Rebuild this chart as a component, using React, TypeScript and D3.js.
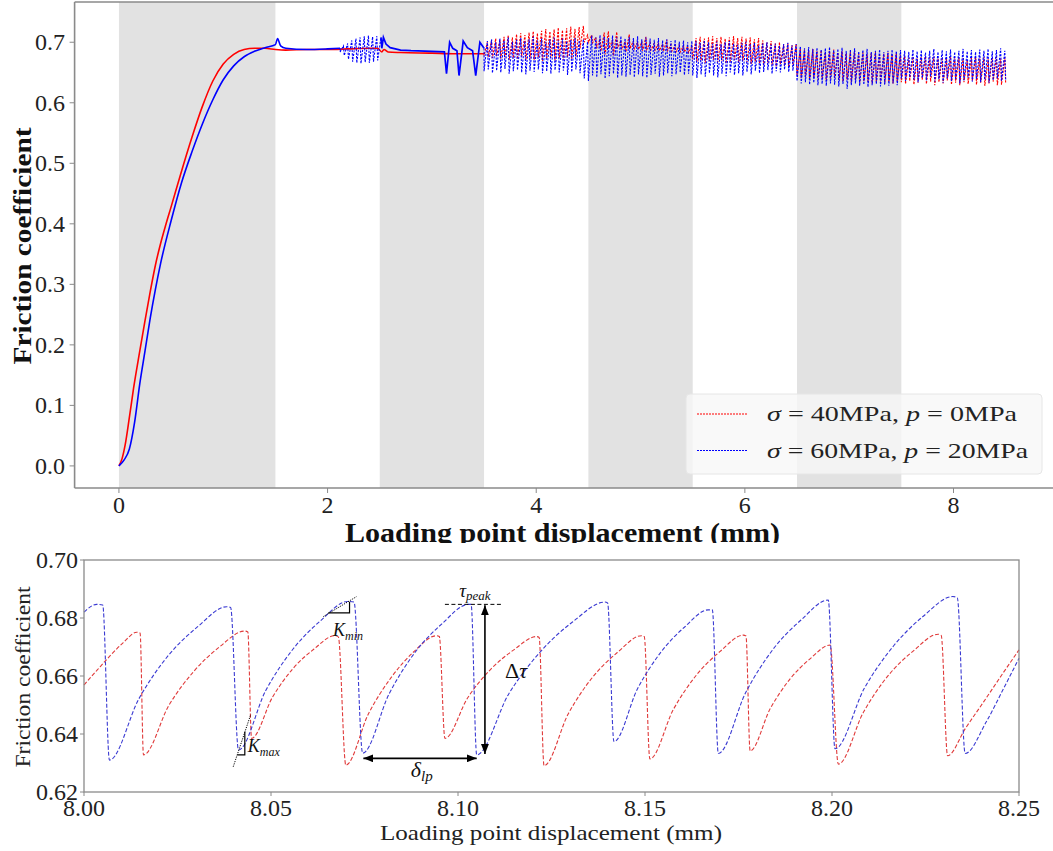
import React from "react";
import * as d3 from "d3";

const FONT = "'Liberation Serif', 'Times New Roman', serif";
const RED = "#ff0000";
const BLUE = "#0000ff";
const RED2 = "#e03a3a";
const BLUE2 = "#3a3ad2";

// ---------------- Top chart data ----------------
const topBands: [number, number][] = [[0, 1.5], [2.5, 3.5], [4.5, 5.5], [6.5, 7.5]];
const topXTicks = [0, 2, 4, 6, 8];
const topYTicks = [0.0, 0.1, 0.2, 0.3, 0.4, 0.5, 0.6, 0.7];

// sigma = 40 MPa, p = 0 MPa : loading + steady sliding
const redSmoothX = [0, 0.03, 0.06, 0.1, 0.14, 0.2, 0.25, 0.3, 0.35, 0.4, 0.45, 0.5, 0.6, 0.7, 0.8, 0.9, 1.0, 1.1, 1.2, 1.3, 1.4, 1.5, 1.6, 1.8, 2.0, 2.2, 2.4, 2.48, 2.52, 2.54, 2.58, 2.7, 3.0, 3.2, 3.5];
const redSmoothY = [0, 0.012, 0.035, 0.08, 0.128, 0.19, 0.24, 0.288, 0.332, 0.368, 0.399, 0.428, 0.487, 0.543, 0.594, 0.636, 0.664, 0.68, 0.688, 0.69, 0.69, 0.688, 0.687, 0.688, 0.688, 0.689, 0.69, 0.69, 0.684, 0.688, 0.684, 0.683, 0.682, 0.681, 0.681];

// sigma = 60 MPa, p = 20 MPa : loading
const blueSmoothX = [0, 0.05, 0.1, 0.15, 0.2, 0.25, 0.3, 0.35, 0.4, 0.5, 0.6, 0.7, 0.8, 0.9, 1.0, 1.1, 1.2, 1.3, 1.4, 1.5, 1.52, 1.55, 1.6, 1.8, 2.0, 2.12];
const blueSmoothY = [0, 0.01, 0.028, 0.072, 0.136, 0.19, 0.244, 0.292, 0.335, 0.405, 0.468, 0.519, 0.565, 0.605, 0.638, 0.661, 0.676, 0.685, 0.691, 0.696, 0.706, 0.694, 0.69, 0.688, 0.689, 0.69];

// blue burst of stick-slip near 2.12–2.52 mm (one peak/trough per cycle)
const blueBurstStart = 2.12;
const blueBurstPeaks = [0.694, 0.698, 0.703, 0.706, 0.708, 0.71, 0.711, 0.709, 0.71, 0.708];
const blueBurstTroughs = [0.684, 0.678, 0.672, 0.668, 0.666, 0.665, 0.667, 0.666, 0.668, 0.67];

// blue 2.52–3.5 mm
const blueMidX = [2.52, 2.535, 2.56, 2.6, 2.7, 2.8, 3.0, 3.12, 3.14, 3.17, 3.2, 3.24, 3.26, 3.3, 3.34, 3.39, 3.42, 3.46, 3.5];
const blueMidY = [0.69, 0.708, 0.697, 0.691, 0.687, 0.686, 0.685, 0.684, 0.648, 0.7, 0.69, 0.686, 0.645, 0.702, 0.691, 0.686, 0.645, 0.7, 0.69];

// stick-slip from 3.5 mm to 8.5 mm, one cycle every 0.04 mm
const stickStart = 3.5;
const cycleStep = 0.04;
const redPeaks = [
  0.700, 0.703, 0.706, 0.704, 0.709, 0.711, 0.708, 0.713, 0.715, 0.712, 0.716, 0.718, 0.715, 0.719, 0.722, 0.718, 0.721, 0.724, 0.720, 0.723, 0.726, 0.722, 0.725, 0.727, 0.712,
  0.712, 0.708, 0.706, 0.716, 0.718, 0.704, 0.717, 0.703, 0.701, 0.713, 0.702, 0.700, 0.700, 0.709, 0.699, 0.698, 0.698, 0.697, 0.704, 0.696, 0.695, 0.695, 0.694, 0.693, 0.693,
  0.707, 0.709, 0.706, 0.708, 0.710, 0.707, 0.709, 0.706, 0.708, 0.710, 0.707, 0.709, 0.706, 0.708, 0.705, 0.707, 0.703, 0.700, 0.702, 0.698, 0.700, 0.696, 0.698, 0.695, 0.697,
  0.690, 0.688, 0.686, 0.689, 0.685, 0.687, 0.684, 0.686, 0.688, 0.683, 0.685, 0.682, 0.684, 0.686, 0.681, 0.683, 0.680, 0.682, 0.684, 0.679, 0.681, 0.683, 0.680, 0.682, 0.679,
  0.677, 0.674, 0.676, 0.673, 0.675, 0.677, 0.674, 0.676, 0.673, 0.675, 0.674, 0.676, 0.673, 0.675, 0.674, 0.671, 0.674, 0.676, 0.673, 0.675, 0.672, 0.674, 0.676, 0.673, 0.675,
];
const redTroughs = [
  0.678, 0.676, 0.674, 0.677, 0.673, 0.675, 0.671, 0.674, 0.672, 0.676, 0.670, 0.673, 0.671, 0.675, 0.669, 0.672, 0.674, 0.670, 0.673, 0.671, 0.675, 0.672, 0.676, 0.690, 0.700,
  0.700, 0.699, 0.690, 0.685, 0.680, 0.690, 0.678, 0.690, 0.688, 0.684, 0.690, 0.689, 0.688, 0.686, 0.688, 0.687, 0.687, 0.686, 0.685, 0.686, 0.685, 0.684, 0.684, 0.684, 0.683,
  0.672, 0.668, 0.670, 0.666, 0.669, 0.671, 0.667, 0.670, 0.665, 0.668, 0.671, 0.666, 0.669, 0.667, 0.664, 0.668, 0.665, 0.662, 0.666, 0.663, 0.660, 0.664, 0.661, 0.659, 0.662,
  0.645, 0.641, 0.643, 0.639, 0.642, 0.638, 0.640, 0.636, 0.639, 0.641, 0.637, 0.635, 0.638, 0.634, 0.637, 0.633, 0.636, 0.634, 0.632, 0.635, 0.633, 0.631, 0.634, 0.632, 0.635,
  0.634, 0.631, 0.636, 0.630, 0.633, 0.638, 0.631, 0.635, 0.629, 0.634, 0.632, 0.637, 0.630, 0.633, 0.629, 0.634, 0.631, 0.636, 0.630, 0.633, 0.628, 0.632, 0.635, 0.629, 0.630,
  0.632,
];
const bluePeaks = [
  0.702, 0.705, 0.700, 0.706, 0.703, 0.708, 0.701, 0.704, 0.707, 0.702, 0.705, 0.709, 0.703, 0.706, 0.701, 0.705, 0.708, 0.703, 0.706, 0.702, 0.704, 0.707, 0.703, 0.705, 0.701,
  0.711, 0.708, 0.712, 0.709, 0.707, 0.711, 0.708, 0.710, 0.706, 0.709, 0.707, 0.710, 0.705, 0.708, 0.706, 0.704, 0.707, 0.703, 0.705, 0.702, 0.704, 0.701, 0.703, 0.700, 0.702,
  0.702, 0.699, 0.703, 0.700, 0.698, 0.701, 0.697, 0.700, 0.702, 0.698, 0.696, 0.699, 0.701, 0.697, 0.699, 0.695, 0.698, 0.700, 0.696, 0.698, 0.694, 0.697, 0.699, 0.695, 0.697,
  0.693, 0.690, 0.692, 0.689, 0.691, 0.688, 0.690, 0.692, 0.687, 0.689, 0.691, 0.686, 0.688, 0.690, 0.685, 0.687, 0.689, 0.684, 0.686, 0.688, 0.684, 0.686, 0.688, 0.685, 0.687,
  0.686, 0.684, 0.688, 0.685, 0.687, 0.683, 0.686, 0.689, 0.684, 0.687, 0.685, 0.688, 0.684, 0.686, 0.689, 0.685, 0.687, 0.684, 0.688, 0.686, 0.689, 0.685, 0.687, 0.690, 0.686,
];
const blueTroughs = [
  0.652, 0.655, 0.649, 0.653, 0.650, 0.656, 0.648, 0.652, 0.654, 0.650, 0.647, 0.653, 0.651, 0.655, 0.649, 0.652, 0.648, 0.654, 0.650, 0.653, 0.646, 0.651, 0.655, 0.649, 0.640,
  0.636, 0.645, 0.642, 0.647, 0.640, 0.644, 0.648, 0.641, 0.645, 0.643, 0.646, 0.642, 0.647, 0.644, 0.641, 0.646, 0.648, 0.643, 0.645, 0.649, 0.644, 0.647, 0.650, 0.646, 0.648,
  0.645, 0.641, 0.647, 0.643, 0.649, 0.645, 0.642, 0.648, 0.644, 0.650, 0.646, 0.649, 0.645, 0.651, 0.647, 0.653, 0.649, 0.651, 0.654, 0.648, 0.652, 0.650, 0.655, 0.651, 0.653,
  0.636, 0.632, 0.634, 0.630, 0.633, 0.629, 0.631, 0.628, 0.632, 0.630, 0.627, 0.631, 0.623, 0.629, 0.632, 0.628, 0.630, 0.626, 0.629, 0.631, 0.627, 0.630, 0.628, 0.632, 0.629,
  0.640, 0.636, 0.642, 0.638, 0.634, 0.641, 0.637, 0.643, 0.635, 0.639, 0.633, 0.640, 0.636, 0.638, 0.632, 0.637, 0.641, 0.635, 0.639, 0.634, 0.638, 0.633, 0.637, 0.640, 0.636,
  0.638,
];

const legendLabels = [
  { sigma: "40", p: "0" },
  { sigma: "60", p: "20" },
];

// ---------------- Bottom chart data ----------------
const bottomXTicks = [8.0, 8.05, 8.1, 8.15, 8.2, 8.25];
const bottomYTicks = [0.62, 0.64, 0.66, 0.68, 0.7];

const bottomRedX = [8.0, 8.0035, 8.007, 8.0105, 8.0141, 8.015, 8.0159, 8.0227, 8.0295, 8.0362, 8.043, 8.0438, 8.0448, 8.0504, 8.0559, 8.0615, 8.067, 8.068, 8.07, 8.0761, 8.0822, 8.0882, 8.0943, 8.095, 8.0965, 8.1026, 8.1088, 8.1149, 8.121, 8.1217, 8.123, 8.1295, 8.136, 8.1426, 8.1491, 8.1498, 8.1513, 8.1576, 8.1638, 8.1701, 8.1763, 8.177, 8.1781, 8.1835, 8.1888, 8.1942, 8.1995, 8.2017, 8.2084, 8.215, 8.2217, 8.2284, 8.2292, 8.2309, 8.2357, 8.2405, 8.2452, 8.25];
const bottomRedY = [0.6569, 0.662, 0.667, 0.6715, 0.6751, 0.6748, 0.6328, 0.6499, 0.6618, 0.67, 0.6755, 0.6752, 0.6385, 0.6527, 0.6626, 0.6693, 0.6739, 0.6735, 0.6293, 0.6471, 0.6596, 0.6684, 0.6739, 0.6736, 0.6385, 0.6525, 0.6624, 0.669, 0.6736, 0.6733, 0.6291, 0.647, 0.6596, 0.6681, 0.6739, 0.6736, 0.6314, 0.6485, 0.6604, 0.6685, 0.6741, 0.6738, 0.6342, 0.6488, 0.659, 0.666, 0.6707, 0.6296, 0.6475, 0.6601, 0.6686, 0.6744, 0.674, 0.6325, 0.642, 0.651, 0.66, 0.669];
const bottomBlueX = [8.0, 8.0034, 8.005, 8.0068, 8.0147, 8.0225, 8.0304, 8.0382, 8.0392, 8.0413, 8.0486, 8.0559, 8.0632, 8.0705, 8.0722, 8.0745, 8.0816, 8.0886, 8.0957, 8.1028, 8.1035, 8.105, 8.1136, 8.1222, 8.1307, 8.1393, 8.14, 8.1417, 8.148, 8.1543, 8.1606, 8.1669, 8.168, 8.1696, 8.177, 8.1843, 8.1917, 8.199, 8.2008, 8.2087, 8.2166, 8.2244, 8.2323, 8.2335, 8.2356, 8.2413, 8.246, 8.25];
const bottomBlueY = [0.682, 0.6847, 0.6845, 0.631, 0.6522, 0.667, 0.677, 0.6839, 0.6836, 0.6345, 0.655, 0.6693, 0.679, 0.6857, 0.6855, 0.6334, 0.6539, 0.6683, 0.678, 0.6847, 0.6847, 0.6328, 0.6539, 0.6686, 0.6787, 0.6855, 0.6852, 0.6374, 0.6556, 0.6683, 0.6769, 0.6828, 0.6828, 0.6333, 0.6545, 0.6693, 0.6793, 0.6862, 0.6349, 0.6559, 0.6706, 0.6806, 0.6874, 0.687, 0.6333, 0.6443, 0.656, 0.6661];

// annotation anchors (data coordinates)
const kMaxTangent: [number, number][] = [[8.0399, 0.6287], [8.0446, 0.6468]];
const kMaxLegs: [number, number][] = [[8.041, 0.6328], [8.043, 0.6328], [8.043, 0.6408]];
const kMinTangent: [number, number][] = [[8.064, 0.6805], [8.0729, 0.6874]];
const kMinLegs: [number, number][] = [[8.0653, 0.6818], [8.071, 0.6818], [8.071, 0.6856]];
const tauPeak = { x0: 8.0965, x1: 8.1117, y: 0.6847 };
const deltaTau = { x: 8.1072, y0: 0.6847, y1: 0.6328 };
const deltaLp = { y: 0.6316, x0: 8.0747, x1: 8.105 };

type P = [number, number];
const zip = (xs: number[], ys: number[]): P[] => xs.map((x, i) => [x, ys[i]]);
function cycles(start: number, step: number, peaks: number[], troughs: number[]): P[] {
  const pts: P[] = [];
  peaks.forEach((pk, i) => {
    const x0 = start + i * step;
    pts.push([x0, troughs[i]]);
    pts.push([x0 + 0.8 * step, pk]);
  });
  if (troughs.length > peaks.length) pts.push([start + peaks.length * step, troughs[peaks.length]]);
  return pts;
}

export default function App() {
  // top scales
  const xT = d3.scaleLinear().domain([-0.425, 8.925]).range([74.6, 1050]);
  const yT = d3.scaleLinear().domain([-0.0365, 0.7665]).range([488, 2]);
  const lT = d3.line<P>().x((d) => xT(d[0])).y((d) => yT(d[1]));
  const lTs = d3.line<P>().x((d) => xT(d[0])).y((d) => yT(d[1])).curve(d3.curveMonotoneX);

  const redSmooth = zip(redSmoothX, redSmoothY);
  const redStick = [redSmooth[redSmooth.length - 1], ...cycles(stickStart, cycleStep, redPeaks, redTroughs)];
  const blueSmooth = zip(blueSmoothX, blueSmoothY);
  const blueBurst = [blueSmooth[blueSmooth.length - 1], ...cycles(blueBurstStart, cycleStep, blueBurstPeaks, blueBurstTroughs)];
  const blueMid = [blueBurst[blueBurst.length - 1], ...zip(blueMidX, blueMidY)];
  const blueStick = [blueMid[blueMid.length - 1], ...cycles(stickStart, cycleStep, bluePeaks, blueTroughs)];

  // bottom scales
  const xB = d3.scaleLinear().domain([8.0, 8.25]).range([84, 1019]);
  const yB = d3.scaleLinear().domain([0.62, 0.7]).range([792, 560]);
  const lB = d3.line<P>().x((d) => xB(d[0])).y((d) => yB(d[1])).curve(d3.curveMonotoneX);
  const lBstraight = d3.line<P>().x((d) => xB(d[0])).y((d) => yB(d[1]));

  const spine = "#8a8a8a";
  const txt = "#222";

  return (
    <svg width={1053} height={851} style={{ position: "absolute", left: 0, top: 0, background: "#fff" }} fontFamily={FONT}>
      <defs>
        <marker id="arrowHead" viewBox="0 0 10 8" refX="10" refY="4" markerWidth="10" markerHeight="8" markerUnits="userSpaceOnUse" orient="auto-start-reverse">
          <path d="M0,0 L10,4 L0,8 z" fill="#000" />
        </marker>
      </defs>
      <rect x={0} y={0} width={1053} height={851} fill="#fff" />

      {/* ---------------- TOP CHART ---------------- */}
      {topBands.map(([a, b], i) => (
        <rect key={i} x={xT(a)} y={2} width={xT(b) - xT(a)} height={486} fill="#e2e2e2" />
      ))}
      <path d={lTs(redSmooth) || ""} fill="none" stroke={RED} strokeWidth={1.6} />
      <path d={lT(redStick) || ""} fill="none" stroke={RED} strokeWidth={1.1} strokeDasharray="2.2,1.3" />
      <path d={lTs(blueSmooth) || ""} fill="none" stroke={BLUE} strokeWidth={1.6} />
      <path d={lT(blueBurst) || ""} fill="none" stroke={BLUE} strokeWidth={1.1} strokeDasharray="2.2,1.3" />
      <path d={lT(blueMid) || ""} fill="none" stroke={BLUE} strokeWidth={1.7} />
      <path d={lT(blueStick) || ""} fill="none" stroke={BLUE} strokeWidth={1.1} strokeDasharray="2.2,1.3" />

      {/* legend */}
      <rect x={686} y={394} width={356} height={80} rx={4} fill="#f8f8f8" fillOpacity={0.8} stroke="#e6e6e6" strokeWidth={1} />
      {legendLabels.map((lab, i) => {
        const y = 414 + i * 36.5;
        return (
          <g key={i}>
            <line x1={697} x2={748} y1={y} y2={y} stroke={i === 0 ? RED : BLUE} strokeWidth={1.2} strokeDasharray="2,1" />
            <text x={767} y={y + 7} fontSize={22} fill={txt} textLength={i === 0 ? 250 : 261} lengthAdjust="spacingAndGlyphs">
              <tspan fontStyle="italic">σ</tspan>
              <tspan> = {lab.sigma}MPa, </tspan>
              <tspan fontStyle="italic">p</tspan>
              <tspan> = {lab.p}MPa</tspan>
            </text>
          </g>
        );
      })}

      {/* spines */}
      <line x1={74.6} x2={74.6} y1={2} y2={488} stroke={spine} strokeWidth={1.6} />
      <line x1={74.6} x2={1053} y1={2} y2={2} stroke={spine} strokeWidth={1.6} />
      <line x1={74.6} x2={1053} y1={488} y2={488} stroke={spine} strokeWidth={1.6} />
      {topXTicks.map((t) => (
        <g key={t}>
          <line x1={xT(t)} x2={xT(t)} y1={488} y2={493} stroke={spine} strokeWidth={1} />
          <text x={xT(t)} y={513} fontSize={24} textAnchor="middle" fill={txt}>{t}</text>
        </g>
      ))}
      {topYTicks.map((t) => (
        <g key={t}>
          <line x1={69.6} x2={74.6} y1={yT(t)} y2={yT(t)} stroke={spine} strokeWidth={1} />
          <text x={65} y={yT(t) + 8} fontSize={24} textAnchor="end" fill={txt}>{t.toFixed(1)}</text>
        </g>
      ))}
      <text x={562.5} y={542} fontSize={27} fontWeight="bold" textAnchor="middle" fill="#111" textLength={435} lengthAdjust="spacingAndGlyphs">
        Loading point displacement (mm)
      </text>
      <text transform="translate(31,246) rotate(-90)" fontSize={26} fontWeight="bold" textAnchor="middle" fill="#111" textLength={237} lengthAdjust="spacingAndGlyphs">
        Friction coefficient
      </text>

      {/* cover: lower panel starts here */}
      <rect x={0} y={543} width={1053} height={308} fill="#fff" />

      {/* ---------------- BOTTOM CHART ---------------- */}
      <path d={lB(zip(bottomRedX, bottomRedY)) || ""} fill="none" stroke={RED2} strokeWidth={1.1} strokeDasharray="4,2" />
      <path d={lB(zip(bottomBlueX, bottomBlueY)) || ""} fill="none" stroke={BLUE2} strokeWidth={1.1} strokeDasharray="4,2" />

      {/* annotations */}
      <path d={lBstraight(kMaxTangent) || ""} fill="none" stroke="#000" strokeWidth={1} strokeDasharray="1.2,1.2" />
      <path d={lBstraight(kMaxLegs) || ""} fill="none" stroke="#000" strokeWidth={1.2} />
      <text x={xB(8.0438)} y={yB(0.6338)} fontSize={18} fontStyle="italic" fill="#111">
        K<tspan fontSize={12} dy={4}>max</tspan>
      </text>
      <path d={lBstraight(kMinTangent) || ""} fill="none" stroke="#000" strokeWidth={1} strokeDasharray="1.2,1.2" />
      <path d={lBstraight(kMinLegs) || ""} fill="none" stroke="#000" strokeWidth={1.2} />
      <text x={xB(8.0666)} y={yB(0.6738)} fontSize={18} fontStyle="italic" fill="#111">
        K<tspan fontSize={12} dy={4}>min</tspan>
      </text>
      <line x1={xB(tauPeak.x0)} x2={xB(tauPeak.x1)} y1={yB(tauPeak.y)} y2={yB(tauPeak.y)} stroke="#000" strokeWidth={1} strokeDasharray="4,2.5" />
      <text x={xB(8.1045)} y={yB(0.6872)} fontSize={19} fontStyle="italic" textAnchor="middle" fill="#111">
        τ<tspan fontSize={13} dy={3}>peak</tspan>
      </text>
      <line x1={xB(deltaTau.x)} x2={xB(deltaTau.x)} y1={yB(deltaTau.y0) + 1} y2={yB(deltaTau.y1) - 1} stroke="#000" strokeWidth={1.6} markerStart="url(#arrowHead)" markerEnd="url(#arrowHead)" />
      <text x={xB(8.1126)} y={yB(0.6593)} fontSize={22} fill="#111">
        Δ<tspan fontStyle="italic">τ</tspan>
      </text>
      <line x1={xB(deltaLp.x0)} x2={xB(deltaLp.x1)} y1={yB(deltaLp.y)} y2={yB(deltaLp.y)} stroke="#000" strokeWidth={1.6} markerStart="url(#arrowHead)" markerEnd="url(#arrowHead)" />
      <text x={xB(8.0903)} y={yB(0.6252)} fontSize={22} fontStyle="italic" textAnchor="middle" fill="#111">
        δ<tspan fontSize={15} dy={4}>lp</tspan>
      </text>

      {/* frame */}
      <rect x={84} y={560} width={935} height={232} fill="none" stroke={spine} strokeWidth={1.3} />
      {bottomXTicks.map((t) => (
        <g key={t}>
          <line x1={xB(t)} x2={xB(t)} y1={792} y2={796} stroke={spine} strokeWidth={1} />
          <text x={xB(t)} y={816} fontSize={24} textAnchor="middle" fill={txt}>{t.toFixed(2)}</text>
        </g>
      ))}
      {bottomYTicks.map((t) => (
        <g key={t}>
          <line x1={80} x2={84} y1={yB(t)} y2={yB(t)} stroke={spine} strokeWidth={1} />
          <text x={78} y={yB(t) + 8} fontSize={24} textAnchor="end" fill={txt}>{t.toFixed(2)}</text>
        </g>
      ))}
      <text x={551} y={840} fontSize={22} textAnchor="middle" fill={txt} textLength={342} lengthAdjust="spacingAndGlyphs">
        Loading point displacement (mm)
      </text>
      <text transform="translate(30,677) rotate(-90)" fontSize={22} textAnchor="middle" fill={txt} textLength={181} lengthAdjust="spacingAndGlyphs">
        Friction coefficient
      </text>
    </svg>
  );
}
